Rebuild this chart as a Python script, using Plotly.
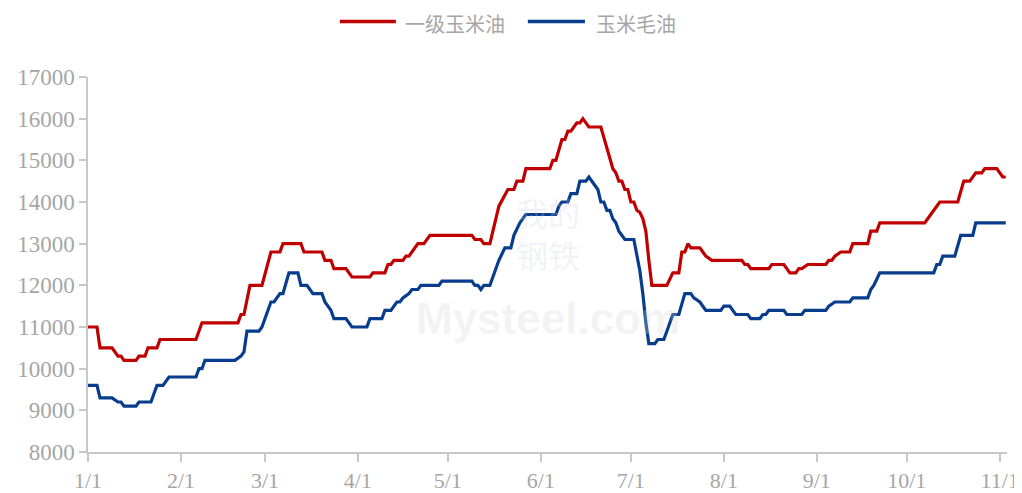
import plotly.graph_objects as go

YEAR = "2022"

# 一级玉米油 (first-grade corn oil)
grade1_dates = [
    "01-01", "01-04", "01-05", "01-09", "01-11", "01-12", "01-13", "01-17", "01-18", "01-20",
    "01-21", "01-24", "01-25", "02-06", "02-08", "02-20", "02-21", "02-22", "02-24", "02-28",
    "03-03", "03-06", "03-07", "03-13", "03-14", "03-20", "03-21", "03-23", "03-24", "03-28",
    "03-30", "04-05", "04-06", "04-10", "04-11", "04-12", "04-13", "04-16", "04-17", "04-18",
    "04-21", "04-23", "04-25", "05-09", "05-10", "05-12", "05-13", "05-15", "05-18", "05-21",
    "05-23", "05-24", "05-26", "05-27", "06-04", "06-05", "06-06", "06-08", "06-09", "06-10",
    "06-11", "06-13", "06-14", "06-15", "06-17", "06-21", "06-25", "06-26", "06-27", "06-28",
    "06-29", "06-30", "07-01", "07-02", "07-03", "07-04", "07-05", "07-06", "07-07", "07-08",
    "07-13", "07-15", "07-17", "07-18", "07-19", "07-20", "07-21", "07-24", "07-25", "07-26",
    "07-28", "08-07", "08-08", "08-09", "08-10", "08-16", "08-17", "08-21", "08-22", "08-23",
    "08-25", "08-26", "08-27", "08-29", "09-04", "09-05", "09-06", "09-07", "09-09", "09-12",
    "09-13", "09-18", "09-19", "09-21", "09-22", "10-07", "10-09", "10-10", "10-12", "10-18",
    "10-20", "10-22", "10-24", "10-26", "10-27", "10-31", "11-02", "11-03",
]
grade1_values = [
    11000, 11000, 10500, 10500, 10300, 10300, 10200, 10200, 10300, 10300,
    10500, 10500, 10700, 10700, 11100, 11100, 11300, 11300, 12000, 12000,
    12800, 12800, 13000, 13000, 12800, 12800, 12600, 12600, 12400, 12400,
    12200, 12200, 12300, 12300, 12500, 12500, 12600, 12600, 12700, 12700,
    13000, 13000, 13200, 13200, 13100, 13100, 13000, 13000, 13900, 14300,
    14300, 14500, 14500, 14800, 14800, 15000, 15000, 15500, 15500, 15700,
    15700, 15900, 15900, 16000, 15800, 15800, 14800, 14700, 14500, 14500,
    14300, 14300, 14000, 14000, 13800, 13750, 13600, 13300, 12600, 12000,
    12000, 12300, 12300, 12800, 12800, 13000, 12900, 12900, 12800, 12700,
    12600, 12600, 12500, 12500, 12400, 12400, 12500, 12500, 12400, 12300,
    12300, 12400, 12400, 12500, 12500, 12600, 12600, 12700, 12800, 12800,
    13000, 13000, 13300, 13300, 13500, 13500, 13700, 13800, 14000, 14000,
    14500, 14500, 14700, 14700, 14800, 14800, 14600, 14600,
]

# 玉米毛油 (crude corn oil)
crude_dates = [
    "01-01", "01-04", "01-05", "01-09", "01-11", "01-12", "01-13", "01-17", "01-18", "01-22",
    "01-24", "01-26", "01-28", "02-06", "02-07", "02-08", "02-09", "02-19", "02-21", "02-22",
    "02-23", "02-27", "02-28", "03-03", "03-04", "03-06", "03-07", "03-09", "03-12", "03-13",
    "03-15", "03-17", "03-20", "03-21", "03-22", "03-23", "03-24", "03-28", "03-30", "04-04",
    "04-05", "04-09", "04-10", "04-12", "04-13", "04-14", "04-15", "04-16", "04-18", "04-19",
    "04-21", "04-22", "04-28", "04-29", "05-09", "05-10", "05-11", "05-12", "05-13", "05-15",
    "05-16", "05-18", "05-20", "05-22", "05-23", "05-25", "05-26", "05-27", "06-06", "06-07",
    "06-08", "06-10", "06-11", "06-13", "06-14", "06-16", "06-17", "06-18", "06-19", "06-20",
    "06-21", "06-22", "06-23", "06-24", "06-25", "06-26", "06-27", "06-29", "07-02", "07-03",
    "07-04", "07-05", "07-06", "07-07", "07-09", "07-10", "07-12", "07-13", "07-15", "07-17",
    "07-19", "07-21", "07-22", "07-24", "07-25", "07-26", "07-28", "07-31", "08-01", "08-03",
    "08-04", "08-05", "08-09", "08-10", "08-13", "08-14", "08-15", "08-16", "08-21", "08-22",
    "08-27", "08-28", "09-04", "09-05", "09-07", "09-12", "09-13", "09-18", "09-19", "09-20",
    "09-22", "10-10", "10-11", "10-12", "10-13", "10-17", "10-19", "10-23", "10-24", "11-03",
]
crude_values = [
    9600, 9600, 9300, 9300, 9200, 9200, 9100, 9100, 9200, 9200,
    9600, 9600, 9800, 9800, 10000, 10000, 10200, 10200, 10300, 10400,
    10900, 10900, 11000, 11600, 11600, 11800, 11800, 12300, 12300, 12000,
    12000, 11800, 11800, 11600, 11500, 11400, 11200, 11200, 11000, 11000,
    11200, 11200, 11400, 11400, 11500, 11600, 11600, 11700, 11800, 11900,
    11900, 12000, 12000, 12100, 12100, 12000, 12000, 11900, 12000, 12000,
    12200, 12600, 12900, 12900, 13200, 13500, 13600, 13700, 13700, 13900,
    14000, 14000, 14200, 14200, 14500, 14500, 14600, 14500, 14400, 14300,
    14000, 14000, 13800, 13800, 13600, 13500, 13300, 13100, 13100, 12750,
    12350, 11800, 11100, 10600, 10600, 10700, 10700, 10900, 11300, 11300,
    11800, 11800, 11700, 11600, 11500, 11400, 11400, 11400, 11500, 11500,
    11400, 11300, 11300, 11200, 11200, 11300, 11300, 11400, 11400, 11300,
    11300, 11400, 11400, 11500, 11600, 11600, 11700, 11700, 11900, 12000,
    12300, 12300, 12500, 12500, 12700, 12700, 13200, 13200, 13500, 13500,
]

tick_dates = ["01-01", "02-01", "03-01", "04-01", "05-01", "06-01",
              "07-01", "08-01", "09-01", "10-01", "11-01"]
tick_labels = ["1/1", "2/1", "3/1", "4/1", "5/1", "6/1",
               "7/1", "8/1", "9/1", "10/1", "11/1"]
y_ticks = [8000, 9000, 10000, 11000, 12000, 13000, 14000, 15000, 16000, 17000]
y_labels = [str(v) for v in y_ticks]

series_names = ["一级玉米油", "玉米毛油"]
RED = "#C00000"
BLUE = "#083C8C"
AXIS = "#C8C8C8"
TXT = "#A6A6A6"


def full(ds):
    return [f"{YEAR}-{d}" for d in ds]


fig = go.Figure()
fig.add_trace(go.Scatter(x=full(grade1_dates), y=grade1_values, mode="lines",
                         name=series_names[0], line=dict(color=RED, width=3.2),
                         showlegend=False))
fig.add_trace(go.Scatter(x=full(crude_dates), y=crude_values, mode="lines",
                         name=series_names[1], line=dict(color=BLUE, width=3.2),
                         showlegend=False))

# faint watermark
fig.add_annotation(x=0.5, y=0.585, xref="paper", yref="paper", text="我的<br>钢铁",
                   showarrow=False, font=dict(size=32, color="rgba(200,205,225,0.25)",
                                              family="Noto Sans CJK SC"))
fig.add_annotation(x=0.5, y=0.355, xref="paper", yref="paper", text="<b>Mysteel.com</b>",
                   showarrow=False, font=dict(size=44, color="rgba(215,215,215,0.28)",
                                              family="Liberation Sans"))

# custom legend (top centre)
legend_items = [(0.274, 0.335, 0.3436, RED, series_names[0]),
                (0.4786, 0.5407, 0.5516, BLUE, series_names[1])]
for x0, x1, xt, col, name in legend_items:
    fig.add_shape(type="line", xref="paper", yref="paper", x0=x0, x1=x1, y0=1.148, y1=1.148,
                  line=dict(color=col, width=3.5))
    fig.add_annotation(x=xt, y=1.143, xref="paper", yref="paper", text=name, showarrow=False,
                       xanchor="left", yanchor="middle", borderpad=0,
                       font=dict(size=20, color=TXT, family="Noto Sans CJK SC"))

# the page body adds an 8px offset, so the figure is sized to fit the window
fig.update_layout(
    width=1014, height=485,
    margin=dict(l=80, r=15, t=69, b=41),
    paper_bgcolor="white", plot_bgcolor="white",
    font=dict(family="Liberation Serif", color=TXT, size=20),
)
fig.update_xaxes(
    type="date", automargin=False,
    range=[f"{YEAR}-01-01", f"{YEAR}-11-03 10:00"],
    tickvals=full(tick_dates), ticktext=tick_labels,
    showgrid=False, zeroline=False,
    showline=True, linecolor=AXIS, linewidth=1.5,
    ticks="outside", ticklen=8, tickcolor=AXIS, tickwidth=1.5,
    tickfont=dict(family="Liberation Serif", size=22, color=TXT),
)
fig.update_yaxes(
    automargin=False,
    range=[8000, 17000], tickvals=y_ticks, ticktext=y_labels,
    showgrid=False, zeroline=False,
    showline=True, linecolor=AXIS, linewidth=1.5,
    ticks="outside", ticklen=7, tickcolor=AXIS, tickwidth=1.5,
    tickfont=dict(family="Liberation Serif", size=23, color=TXT),
)

fig.write_html("out.html")
